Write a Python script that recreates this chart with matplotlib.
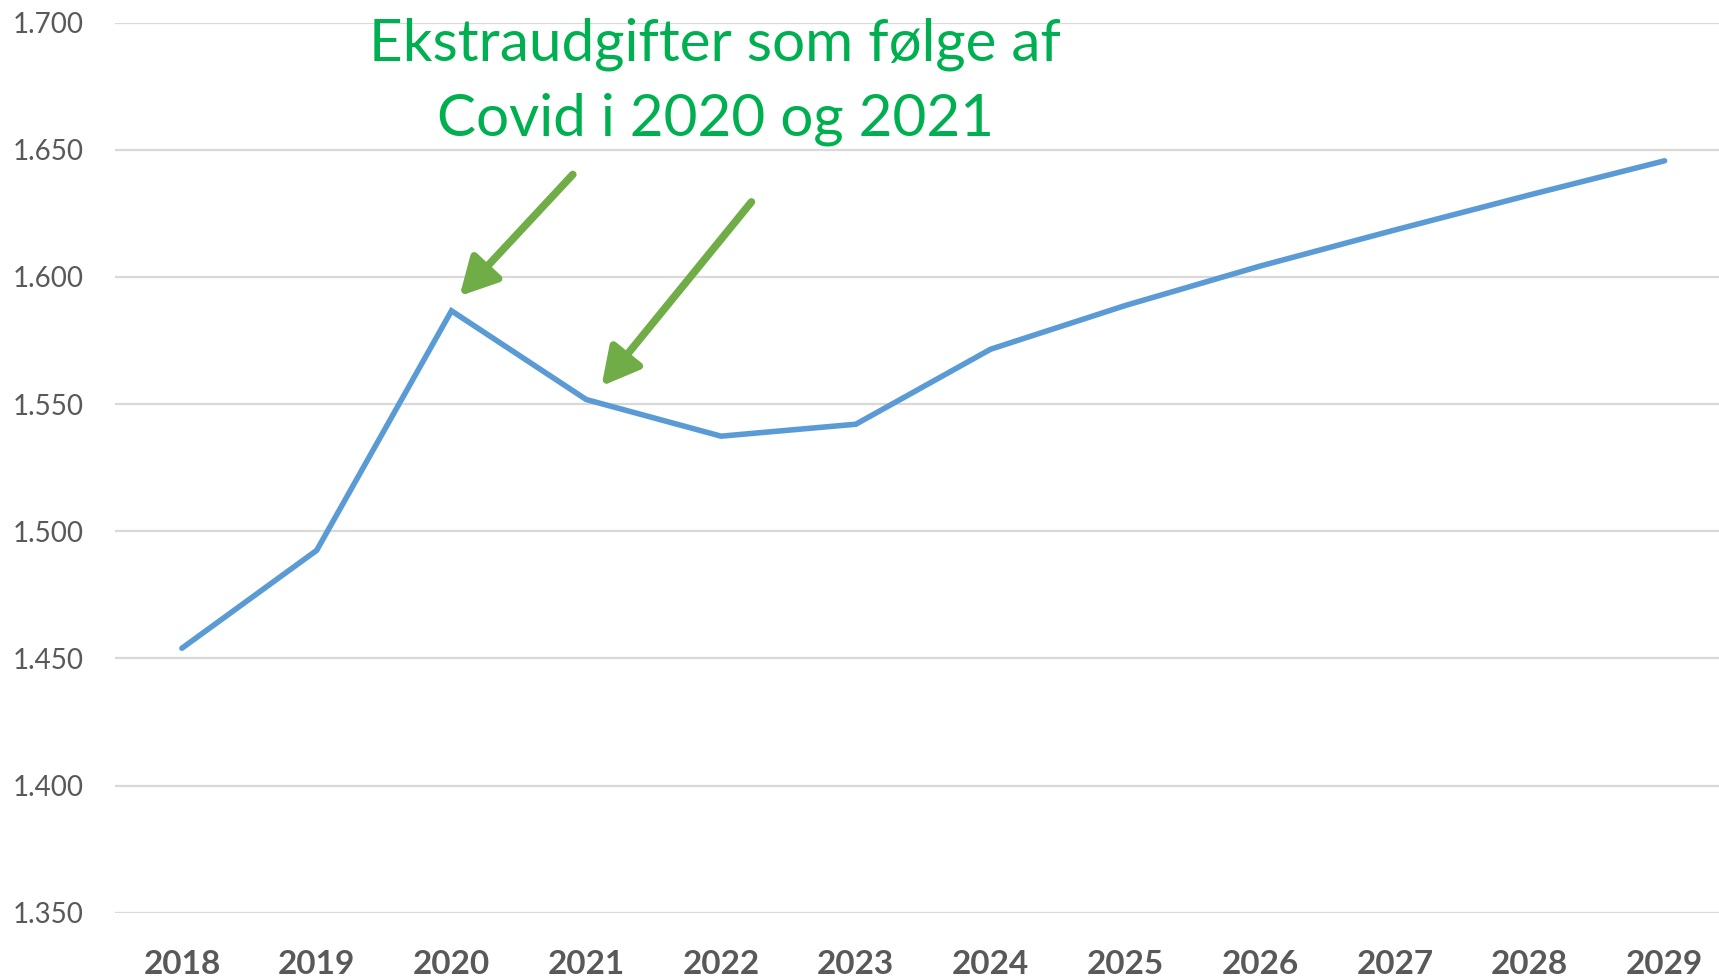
import matplotlib
matplotlib.use("Agg")
import matplotlib.pyplot as plt
from matplotlib.ticker import FixedLocator

years = ["2018", "2019", "2020", "2021", "2022", "2023", "2024", "2025", "2026", "2027", "2028", "2029"]
values = [1.454, 1.4925, 1.5867, 1.5518, 1.5374, 1.5421, 1.5716, 1.5888, 1.6043, 1.6185, 1.6323, 1.6457]
yticks = [1.350, 1.400, 1.450, 1.500, 1.550, 1.600, 1.650, 1.700]
ytick_labels = ["1.350", "1.400", "1.450", "1.500", "1.550", "1.600", "1.650", "1.700"]
annotation_text = "Ekstraudgifter som følge af\nCovid i 2020 og 2021"
arrow_tails = [(2.90, 1.6403), (4.225, 1.6295)]
arrow_heads = [(2.06, 1.5925), (3.113, 1.5571)]

plt.rcParams['font.family'] = ['Lato', 'DejaVu Sans']

W, H = 1719, 976
dpi = 100
fig = plt.figure(figsize=(W / dpi, H / dpi), dpi=dpi)
left, right = 114.5, 1732.0
top, bottom = 22.7, 912.7
ax = fig.add_axes([left / W, 1 - bottom / H, (right - left) / W, (bottom - top) / H])

x = list(range(len(years)))
ax.plot(x, values, color="#5B9BD5", lw=4, solid_joinstyle="miter", solid_capstyle="round", zorder=3)

ax.set_xlim(-0.5, len(years) - 0.5)
ax.set_ylim(1.350, 1.700)
ax.yaxis.set_major_locator(FixedLocator(yticks))
ax.set_yticklabels(ytick_labels)
ax.set_xticks(x)
ax.set_xticklabels(years)
ax.grid(axis="y", color="#D9D9D9", lw=1.6)
ax.set_axisbelow(True)
for s in ax.spines.values():
    s.set_visible(False)
ax.tick_params(axis="both", length=0)
ax.tick_params(axis="y", labelsize=20, labelcolor="#595959", pad=22)
ax.tick_params(axis="x", labelsize=24, labelcolor="#595959", pad=27)
for lbl in ax.get_xticklabels():
    lbl.set_fontweight("bold")

fig.text(715 / W, 1 - 82 / H, annotation_text, color="#00B050", fontsize=42,
         ha="center", va="center", linespacing=1.5)

for (tx, ty), (hx, hy) in zip(arrow_tails, arrow_heads):
    ax.annotate("", xy=(hx, hy), xytext=(tx, ty),
                arrowprops=dict(arrowstyle="-|>,head_length=0.75,head_width=0.4",
                                mutation_scale=30, lw=5.5, color="#70AD47",
                                shrinkA=0, shrinkB=0),
                zorder=4)

fig.savefig("out.png", dpi=dpi)
